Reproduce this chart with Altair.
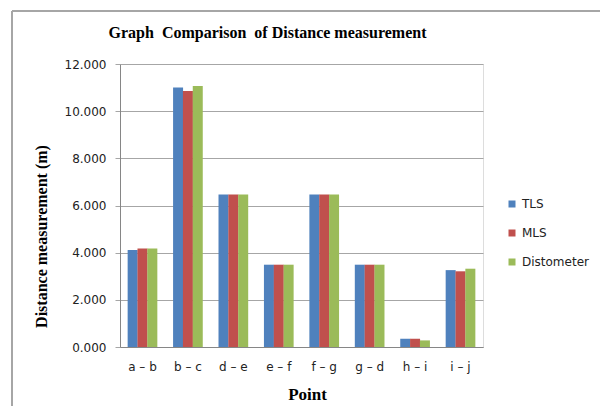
import altair as alt
import pandas as pd

points = ["a – b", "b – c", "d – e", "e – f", "f – g", "g – d", "h – i", "i – j"]
series = ["TLS", "MLS", "Distometer"]
tls = [4.11, 11.00, 6.47, 3.49, 6.47, 3.49, 0.35, 3.26]
mls = [4.18, 10.85, 6.47, 3.49, 6.47, 3.49, 0.35, 3.21]
dist = [4.18, 11.07, 6.47, 3.49, 6.47, 3.49, 0.28, 3.32]
colors = ["#4f81bd", "#c0504d", "#9bbb59"]

rows = []
for name, vals in zip(series, [tls, mls, dist]):
    for p, v in zip(points, vals):
        rows.append({"Point": p, "Series": name, "Value": v})
df = pd.DataFrame(rows)

SANS = "DejaVu Sans"
SERIF = "Liberation Serif"

bars = alt.Chart(df).mark_bar(size=10).encode(
    x=alt.X("Point:N", sort=points,
            scale=alt.Scale(paddingInner=0.35, paddingOuter=0.17),
            axis=alt.Axis(title="Point", labelAngle=0, ticks=False, labelPadding=14,
                          labelFont=SANS, labelFontSize=12, labelColor="#222222",
                          titleFont=SERIF, titleFontSize=17, titleFontWeight="bold",
                          titleColor="#000000", titlePadding=14, titleX=187,
                          domainColor="#868686", grid=False)),
    xOffset=alt.XOffset("Series:N", sort=series),
    y=alt.Y("Value:Q", scale=alt.Scale(domain=[0, 12]),
            axis=alt.Axis(title="Distance measurement (m)", values=[0, 2, 4, 6, 8, 10, 12],
                          format=".3f", tickSize=5, tickColor="#a6a6a6", labelPadding=9,
                          labelFont=SANS, labelFontSize=12, labelColor="#222222",
                          titleFont=SERIF, titleFontSize=16, titleFontWeight="bold",
                          titleColor="#000000", titleAngle=-90, titleX=-79, titleY=172,
                          titleAlign="center", titleBaseline="middle",
                          gridColor="#a6a6a6", gridWidth=1.2, domainColor="#868686")),
    color=alt.Color("Series:N", sort=series,
                    scale=alt.Scale(domain=series, range=colors),
                    legend=alt.Legend(title=None, orient="none", legendX=386, legendY=134,
                                      symbolType="square", symbolSize=49,
                                      symbolStrokeWidth=0, rowPadding=17,
                                      labelFont=SANS, labelFontSize=12,
                                      labelColor="#222222", labelOffset=4)),
)

border_top = alt.Chart(df).mark_rule(color="#a6a6a6", strokeWidth=1.5).encode(
    x=alt.value(-108), x2=alt.value(480), y=alt.value(-53))
border_left = alt.Chart(df).mark_rule(color="#a6a6a6", strokeWidth=1.5).encode(
    x=alt.value(-108), y=alt.value(-53), y2=alt.value(350))

chart = alt.layer(border_top, border_left, bars).properties(
    width=363, height=283,
    autosize=alt.AutoSizeParams(type="none"),
    padding={"left": 112, "top": 56, "right": 117, "bottom": 59},
    title=alt.TitleParams("Graph\u00a0 Comparison\u00a0 of Distance measurement",
                          font=SERIF, fontSize=16, fontWeight="bold", color="#000000",
                          anchor="middle", dx=-34, offset=0, dy=31),
).configure_view(stroke=None).configure(background="white")

chart.save("out.html", embed_options={"renderer": "svg", "actions": False})
